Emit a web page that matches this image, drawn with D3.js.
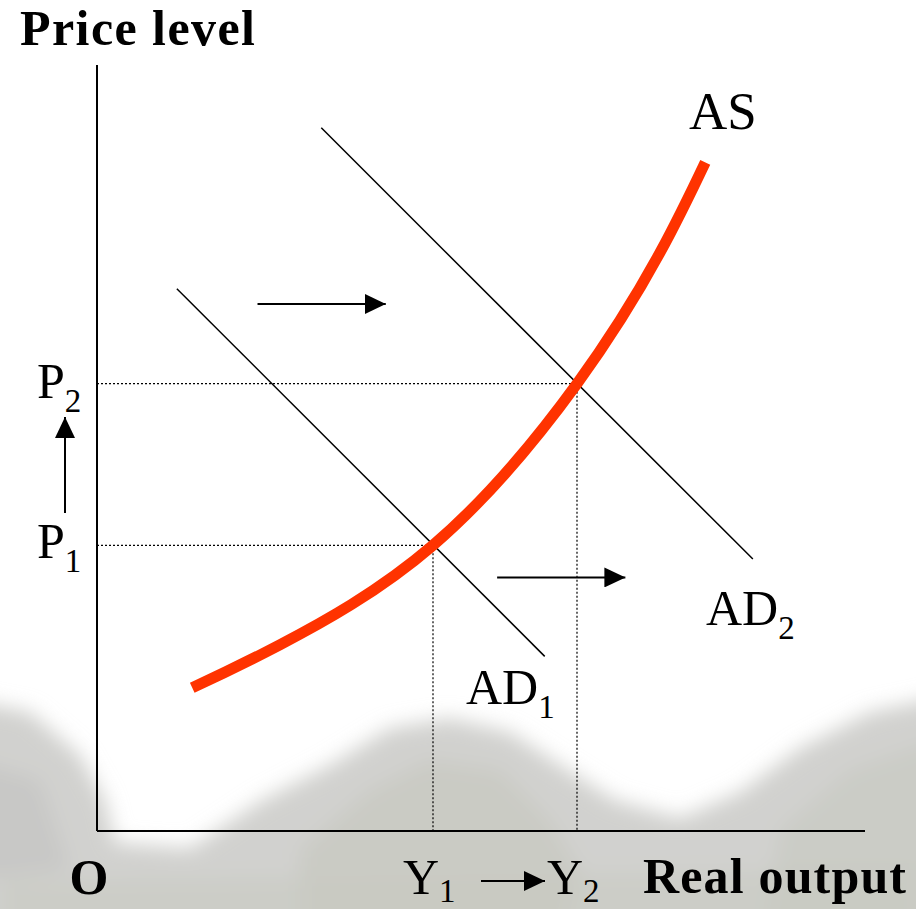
<!DOCTYPE html>
<html>
<head>
<meta charset="utf-8">
<script src="https://cdn.jsdelivr.net/npm/d3@7/dist/d3.min.js"></script>
<style>
  html, body { margin: 0; padding: 0; background: #fff; }
  svg { display: block; }
  text { font-family: "Liberation Serif", "Times New Roman", serif; fill: #000; }
</style>
</head>
<body>
<div id="chart"></div>
<script>
// AS curve (output, price)
var asOutput = [12.4, 23.8, 43.75, 62.5, 73.3, 79.2];
var asPrice = [18.7, 24.3, 37.3, 58.4, 75.5, 87.3];

// AD lines, start and end
var ad1Output = [10.4, 58.3];
var ad1Price = [70.8, 22.8];
var ad2Output = [29.2, 85.4];
var ad2Price = [91.8, 35.5];

// equilibrium levels
var yLevels = [43.75, 62.5];
var pLevels = [37.3, 58.4];
var yLabels = ['1', '2'];
var pLabels = ['1', '2'];

var width = 916;
var height = 909;

var svg = d3.select('#chart')
    .append('svg')
    .attr('width', width)
    .attr('height', height);

var xScale = d3.scaleLinear().domain([0, 100]).range([97, 865]);
var yScale = d3.scaleLinear().domain([0, 100]).range([831, 65]);

var defs = svg.append('defs');
defs.append('filter')
    .attr('id', 'haze')
    .attr('x', '-20%').attr('y', '-20%')
    .attr('width', '140%').attr('height', '140%')
    .append('feGaussianBlur')
    .attr('stdDeviation', 10);

defs.append('marker')
    .attr('id', 'head')
    .attr('markerUnits', 'userSpaceOnUse')
    .attr('viewBox', '0 0 21 20')
    .attr('markerWidth', 21)
    .attr('markerHeight', 20)
    .attr('refX', 21)
    .attr('refY', 10)
    .attr('orient', 'auto')
    .append('path')
    .attr('d', 'M0,0 L21,10 L0,20 Z')
    .attr('fill', '#000');

// faded photo behind the bottom of the slide
var bg = svg.append('g').attr('filter', 'url(#haze)');
bg.append('path')
    .attr('d', 'M-30,700 L30,712 L80,755 L105,800 L115,842 L190,848 L262,800 L330,765 L390,728 L450,718 L510,732 L565,768 L615,800 L680,818 L740,792 L800,748 L870,712 L950,695 L950,950 L-30,950 Z')
    .attr('fill', '#d1d1cf');
bg.append('path')
    .attr('d', 'M300,850 L370,790 L430,760 L500,770 L550,820 L580,870 L560,950 L300,950 Z')
    .attr('fill', '#c4c6bd')
    .attr('opacity', 0.6);
bg.append('path')
    .attr('d', 'M780,830 L850,770 L950,735 L950,950 L760,950 Z')
    .attr('fill', '#c6c8bf')
    .attr('opacity', 0.6);
bg.append('path')
    .attr('d', 'M-30,760 L40,780 L70,870 L-30,880 Z')
    .attr('fill', '#bfbfbd')
    .attr('opacity', 0.5);
bg.append('path')
    .attr('d', 'M0,880 L916,870 L916,950 L0,950 Z')
    .attr('fill', '#c8cac2')
    .attr('opacity', 0.6);

// guide lines
var guides = svg.append('g')
    .attr('stroke', '#000')
    .attr('stroke-width', 1.2)
    .attr('stroke-dasharray', '2,2');
yLevels.forEach(function(v, i) {
    guides.append('line')
        .attr('x1', xScale(0)).attr('y1', yScale(pLevels[i]))
        .attr('x2', xScale(v)).attr('y2', yScale(pLevels[i]));
    guides.append('line')
        .attr('x1', xScale(v)).attr('y1', yScale(pLevels[i]))
        .attr('x2', xScale(v)).attr('y2', yScale(0));
});

// axes
svg.append('line')
    .attr('x1', xScale(0)).attr('y1', yScale(100))
    .attr('x2', xScale(0)).attr('y2', yScale(0))
    .attr('stroke', '#000').attr('stroke-width', 2);
svg.append('line')
    .attr('x1', xScale(0)).attr('y1', yScale(0))
    .attr('x2', xScale(100)).attr('y2', yScale(0))
    .attr('stroke', '#000').attr('stroke-width', 2);

// AD lines
[[ad1Output, ad1Price], [ad2Output, ad2Price]].forEach(function(ad) {
    svg.append('line')
        .attr('x1', xScale(ad[0][0])).attr('y1', yScale(ad[1][0]))
        .attr('x2', xScale(ad[0][1])).attr('y2', yScale(ad[1][1]))
        .attr('stroke', '#000')
        .attr('stroke-width', 1.5);
});

// AS curve
var asLine = d3.line()
    .x(function(d) { return xScale(d[0]); })
    .y(function(d) { return yScale(d[1]); })
    .curve(d3.curveNatural);
svg.append('path')
    .attr('d', asLine(d3.zip(asOutput, asPrice)))
    .attr('fill', 'none')
    .attr('stroke', '#ff3300')
    .attr('stroke-width', 11);

// shift arrows
function arrow(x1, y1, x2, y2) {
    svg.append('line')
        .attr('x1', x1).attr('y1', y1)
        .attr('x2', x2).attr('y2', y2)
        .attr('stroke', '#000')
        .attr('stroke-width', 2)
        .attr('marker-end', 'url(#head)');
}
arrow(xScale(20.9), yScale(68.8), xScale(37.6), yScale(68.8));
arrow(xScale(52.1), yScale(33.1), xScale(68.8), yScale(33.1));
arrow(65, 513, 65, 417);
arrow(481, 881, 545, 881);

// labels
function label(x, y, main, sub, size, dy) {
    var t = svg.append('text')
        .attr('x', x).attr('y', y)
        .style('font-size', size + 'px');
    t.append('tspan').text(main);
    if (sub) {
        t.append('tspan')
            .attr('dy', dy || 14)
            .style('font-size', '33px')
            .text(sub);
    }
    return t;
}

svg.append('text')
    .attr('x', 20).attr('y', 45)
    .attr('textLength', 235)
    .style('font-size', '50px')
    .style('font-weight', 'bold')
    .text('Price level');

svg.append('text')
    .attr('x', 643).attr('y', 893)
    .attr('textLength', 263)
    .style('font-size', '50px')
    .style('font-weight', 'bold')
    .text('Real output');

svg.append('text')
    .attr('x', 89).attr('y', 894)
    .attr('text-anchor', 'middle')
    .style('font-size', '50px')
    .style('font-weight', 'bold')
    .text('O');

label(689, 129, 'AS', null, 53);
label(706, 625, 'AD', '2', 50);
label(466, 704, 'AD', '1', 50);
label(37, 398, 'P', pLabels[1], 50);
label(37, 558, 'P', pLabels[0], 50);
label(403, 894, 'Y', yLabels[0], 50, 8);
label(547, 894, 'Y', yLabels[1], 50, 8);
</script>
</body>
</html>
